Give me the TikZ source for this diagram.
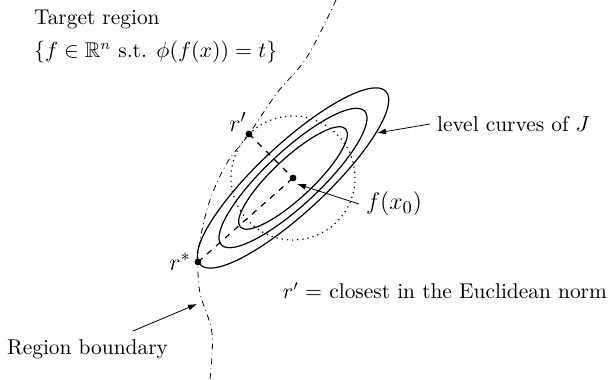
\documentclass[tikz,border=0pt]{standalone}
\usepackage{amsmath}
\usepackage{amssymb}
\usepackage{tikz}
\usetikzlibrary{arrows.meta}

\begin{document}
\begin{tikzpicture}[x=0.5pt, y=0.5pt, >={Latex[length=4.5pt, width=3pt]}, font=\fontsize{10.7}{13}\selectfont]
    \useasboundingbox (0,0) rectangle (608,379);
    \coordinate (fx0) at (293,201);
    \coordinate (rprime) at (249,245);
    \coordinate (rstar) at (198,117);
    % level curves of J and the Euclidean ball
    \draw[semithick, rotate around={43:(fx0)}] (fx0) ellipse (127 and 34);
    \draw[semithick, rotate around={43:(fx0)}] (fx0) ellipse (98 and 27);
    \draw[semithick, rotate around={43:(fx0)}] (fx0) ellipse (72 and 20);
    \draw[dotted, semithick] (fx0) circle (62);
    % region boundary
    \draw[dash dot] plot[smooth, tension=0.6] coordinates {(336,379) (307,322) (277,286) (249,245) (227,216) (210,179) (200,139) (198,117) (200,86) (212,46) (210,0)};
    \draw[dashed, semithick] (rstar) -- (fx0);
    \draw[dashed, semithick] (rprime) -- (fx0);
    \filldraw (fx0) circle (3);
    \filldraw (rprime) circle (3);
    \filldraw (rstar) circle (3) node[left]{\fontsize{13}{15}\selectfont $r^*$};
    \node[above left, inner sep=1pt] at (rprime) {\fontsize{13}{15}\selectfont $r'$};
    % labels
    \node[anchor=west] at (27,360) {Target region};
    \node[anchor=west] at (27,327) {$\{f\in\mathbb{R}^n \text{ s.t. } \phi(f(x))=t\}$};
    \node[anchor=west] (lvl) at (430,255) {level curves of $J$};
    \coordinate (lvltip) at (377,246);
    \draw[->] (lvl.west) -- (lvltip);
    \node[anchor=west] (fxlab) at (359,175) {\fontsize{13}{15}\selectfont $f(x_0)$};
    \coordinate (fxtip) at (297,195);
    \draw[->] (fxlab.west) -- (fxtip);
    \node[anchor=east] at (614,88) {$r' =$ closest in the Euclidean norm};
    \node[anchor=west] (rb) at (0,30) {Region boundary};
    \coordinate (rbtail) at (133,48);
    \coordinate (rbtip) at (197,75);
    \draw[->] (rbtail) -- (rbtip);
\end{tikzpicture}
\end{document}
